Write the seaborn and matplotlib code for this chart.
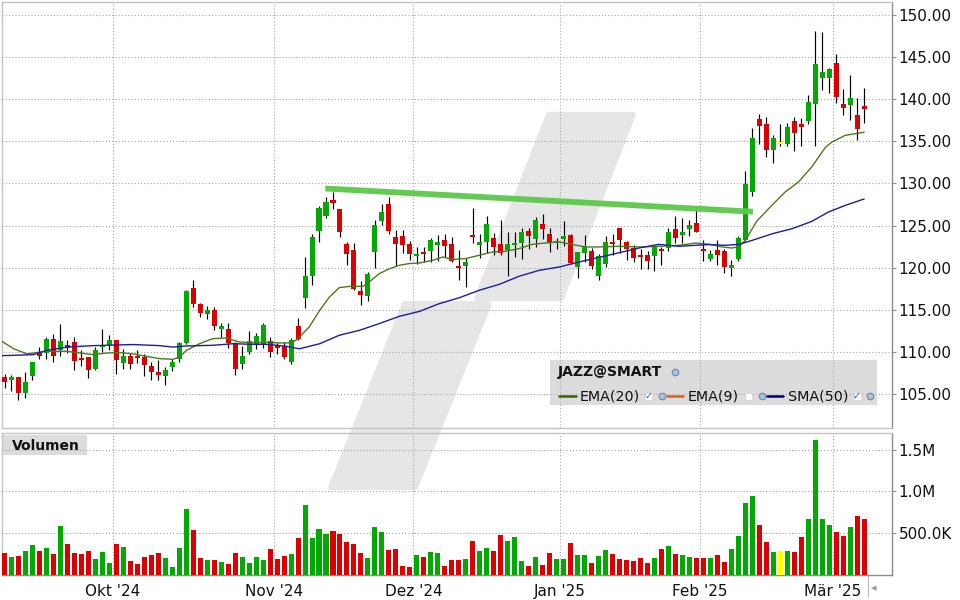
import numpy as np
import pandas as pd
import matplotlib
matplotlib.use("Agg")
import matplotlib.pyplot as plt
import seaborn as sns
from matplotlib.patches import Polygon, Rectangle
from matplotlib.lines import Line2D

# ---------------- data ----------------
opens = [107.0, 106.7, 107.0, 105.16, 107.17, 109.94, 109.94, 111.56, 110.2, 110.8,
         111.16, 109.27, 109.39, 107.96, 110.73, 110.9, 111.4, 108.7, 109.6, 109.55,
         109.4, 108.36, 107.7, 107.17, 108.2, 109.2, 111.09, 117.57, 115.67, 114.5,
         114.96, 112.8, 112.8, 111.09, 108.6, 110.0, 110.9, 110.9, 111.28, 110.77,
         110.77, 108.83, 113.06, 116.4, 118.99, 124.35, 126.15, 128.0, 126.94, 122.87,
         122.07, 117.2, 116.66, 121.88, 125.55, 127.53, 123.62, 123.73, 122.87, 121.4,
         121.84, 122.0, 122.67, 123.34, 122.87, 120.18, 120.18, 123.93, 122.7, 123.0,
         123.58, 122.78, 122.07, 122.7, 122.94, 124.33, 123.42, 125.24, 123.97, 122.94,
         123.42, 123.9, 120.1, 121.8, 122.0, 119.07, 120.45, 122.98, 124.68, 123.02,
         122.31, 121.48, 121.48, 121.4, 122.27, 122.39, 124.56, 123.9, 124.56, 125.28,
         122.27, 121.05, 122.07, 122.0, 119.98, 121.05, 123.34, 128.99, 137.61, 137.1,
         133.97, 134.8, 134.64, 137.37, 137.0, 137.4, 139.43, 142.5, 142.5, 144.25,
         139.4, 139.33, 138.1, 139.14]
highs = [107.45, 107.25, 107.05, 107.7, 108.85, 110.57, 111.8, 112.1, 113.3, 111.4,
         111.76, 110.2, 109.45, 110.6, 112.8, 112.0, 111.45, 110.4, 109.9, 110.2,
         109.75, 108.8, 109.1, 108.2, 109.2, 111.25, 117.4, 118.6, 115.8, 115.5,
         115.4, 113.5, 113.4, 111.2, 110.7, 112.47, 112.27, 113.5, 111.8, 111.1,
         111.16, 111.68, 114.1, 121.3, 124.05, 127.3, 128.35, 128.95, 127.0, 123.1,
         122.94, 118.44, 119.47, 125.63, 127.53, 128.35, 124.5, 124.5, 123.18, 122.47,
         122.47, 123.54, 123.93, 124.05, 123.65, 122.07, 121.2, 127.06, 123.97, 126.19,
         124.13, 125.71, 124.25, 124.25, 124.76, 124.76, 126.03, 126.42, 124.68, 123.58,
         125.55, 123.95, 121.92, 123.9, 122.3, 121.6, 123.74, 124.05, 124.7, 123.14,
         122.67, 122.19, 122.0, 122.47, 122.47, 124.76, 126.1, 125.87, 125.63, 127.2,
         123.26, 122.07, 123.26, 122.27, 120.97, 123.74, 131.5, 136.54, 138.2, 137.9,
         135.71, 137.1, 137.17, 137.88, 137.8, 140.45, 148.04, 147.96, 143.65, 145.4,
         141.24, 142.9, 140.14, 141.28]
lows = [105.76, 105.4, 104.37, 104.6, 106.7, 109.15, 109.2, 108.8, 109.55, 109.86,
        107.88, 108.36, 106.94, 107.88, 109.98, 110.2, 107.4, 108.0, 108.0, 108.7,
        107.17, 106.66, 106.66, 106.1, 107.76, 108.8, 111.0, 115.36, 114.2, 113.97,
        112.67, 111.76, 110.5, 107.33, 108.04, 109.8, 110.4, 110.5, 109.4, 109.8,
        109.2, 108.6, 111.48, 115.2, 117.96, 123.06, 125.9, 126.97, 123.65, 120.37,
        117.4, 115.63, 116.07, 120.02, 125.04, 124.05, 120.26, 121.76, 120.9, 120.5,
        120.65, 120.7, 120.77, 121.28, 120.65, 118.5, 117.73, 122.94, 121.2, 121.8,
        121.56, 121.48, 119.03, 121.28, 121.1, 122.27, 122.47, 123.42, 121.84, 122.2,
        122.6, 120.5, 118.8, 120.65, 119.9, 118.6, 120.1, 121.48, 121.76, 120.97,
        120.65, 119.9, 119.82, 119.62, 120.3, 122.0, 122.94, 122.94, 123.8, 124.2,
        120.77, 120.77, 120.3, 119.4, 118.99, 120.81, 123.2, 128.47, 134.64, 133.14,
        132.39, 134.4, 134.4, 133.85, 134.4, 137.0, 134.45, 141.12, 140.73, 139.55,
        138.1, 137.57, 135.2, 137.17]
closes = [106.42, 107.0, 105.16, 106.42, 108.8, 109.58, 111.56, 109.55, 111.28, 110.53,
          108.95, 109.03, 107.88, 110.2, 110.8, 111.4, 109.07, 109.6, 108.6, 109.3,
          108.48, 107.65, 107.25, 107.85, 108.8, 111.09, 117.25, 115.7, 114.64, 114.96,
          113.06, 113.06, 111.09, 107.96, 109.55, 111.28, 111.9, 113.2, 109.98, 110.53,
          109.4, 111.4, 111.56, 118.99, 123.65, 127.05, 127.76, 127.7, 124.2, 121.68,
          117.53, 116.78, 119.23, 125.04, 126.58, 124.33, 122.78, 122.66, 121.68, 121.6,
          121.64, 123.34, 123.06, 122.55, 120.77, 119.98, 120.65, 123.65, 123.06, 125.16,
          122.47, 121.76, 122.78, 122.94, 124.2, 123.77, 125.71, 124.64, 122.94, 123.1,
          123.73, 120.57, 121.84, 122.63, 120.2, 121.36, 123.1, 122.87, 123.34, 122.23,
          121.2, 121.28, 120.81, 122.43, 122.03, 124.29, 123.58, 124.2, 125.08, 124.29,
          121.96, 121.6, 121.48, 120.1, 120.3, 123.5, 129.94, 135.36, 136.78, 133.97,
          135.36, 134.8, 136.66, 135.99, 136.7, 139.6, 144.13, 143.18, 143.53, 140.26,
          139.0, 140.16, 136.46, 138.83]
volumes_k = [268, 220, 232, 288, 360, 288, 328, 256, 588, 372,
             264, 256, 288, 196, 276, 148, 372, 336, 168, 132,
             220, 240, 264, 208, 100, 328, 792, 544, 208, 184,
             184, 160, 136, 268, 220, 148, 220, 184, 316, 196,
             232, 256, 448, 844, 448, 556, 496, 532, 496, 396,
             376, 268, 208, 580, 516, 304, 316, 112, 100, 244,
             220, 276, 268, 112, 184, 184, 196, 412, 288, 328,
             288, 480, 408, 456, 168, 112, 216, 120, 264, 192,
             192, 384, 240, 240, 144, 228, 300, 252, 192, 180,
             168, 204, 144, 204, 312, 348, 252, 240, 216, 204,
             204, 204, 240, 156, 312, 468, 864, 948, 600, 396,
             276, 288, 288, 276, 456, 672, 1620, 672, 600, 516,
             468, 576, 708, 672]

ema20_x = [-0.4, 1.3, 3.2, 6.0, 8.9, 10.8, 12.7, 14.6, 16.5, 18.4, 20.3, 22.2, 24.1,
           25.1, 26.0, 27.9, 29.8, 31.7, 33.6, 35.5, 37.5, 39.4, 40.8, 41.7, 43.6,
           45.1, 46.5, 47.9, 49.4, 51.3, 52.2, 53.6, 55.1, 56.5, 57.9, 59.4, 61.3,
           62.7, 64.1, 66.0, 67.9, 69.8, 71.7, 73.6, 75.5, 77.4, 79.4, 81.3, 83.2,
           85.1, 88.0, 90.8, 93.6, 96.5, 98.9, 100.8, 102.7, 104.1, 105.1, 106.0,
           107.6, 109.8, 111.7, 113.6, 115.5, 117.5, 118.4, 120.3, 122.7, 123.0]
ema20_y = [111.3, 110.4, 109.8, 110.1, 110.1, 109.9, 109.7, 109.9, 109.95, 109.8, 109.5,
           109.23, 109.15, 109.43, 110.2, 111.0, 111.6, 111.68, 111.2, 111.13, 111.17,
           111.09, 111.09, 111.4, 112.98, 114.96, 116.54, 117.65, 117.8, 117.8, 118.32,
           119.3, 119.9, 120.3, 120.5, 120.57, 120.9, 121.28, 121.0, 121.1, 121.48,
           121.88, 121.96, 122.27, 122.78, 122.94, 123.06, 122.75, 122.47, 122.47,
           122.55, 122.47, 122.55, 122.67, 122.94, 122.8, 122.47, 122.35, 122.5, 123.26,
           125.5, 127.41, 128.99, 130.18, 131.96, 134.33, 134.92, 135.71, 136.03, 136.08]
sma50_x = [-0.4, 4.1, 6.0, 8.9, 12.7, 18.4, 22.2, 24.1, 26.0, 29.8, 32.7, 35.5, 37.5,
           40.3, 42.2, 45.1, 47.9, 50.8, 53.6, 56.5, 59.4, 62.2, 65.1, 67.9, 70.8,
           73.6, 76.5, 79.4, 82.2, 85.1, 88.0, 90.8, 93.6, 96.5, 98.9, 100.8, 103.2,
           105.1, 107.0, 109.9, 112.7, 115.5, 117.9, 120.3, 122.7, 123.0]
sma50_y = [109.58, 109.7, 110.2, 110.6, 110.77, 110.9, 110.77, 110.6, 110.73, 110.81,
           111.0, 110.93, 110.93, 110.69, 110.4, 111.0, 112.0, 112.59, 113.38, 114.25,
           114.84, 115.75, 116.46, 117.33, 118.04, 118.99, 119.7, 120.1, 120.69, 121.24,
           121.8, 122.35, 122.78, 122.55, 122.67, 122.75, 122.67, 122.78, 123.26, 124.05,
           124.64, 125.5, 126.62, 127.4, 128.08, 128.15]

trend_x = [45.9, 107.1]
trend_y = [129.4, 126.65]

month_labels = ["Okt '24", "Nov '24", "Dez '24", "Jan '25", "Feb '25", "M\u00e4r '25"]
month_first_idx = [16, 39, 59, 80, 100, 119]
price_ticks = [105, 110, 115, 120, 125, 130, 135, 140, 145, 150]
vol_ticks = [500000, 1000000, 1500000]
vol_tick_labels = ["500.0K", "1.0M", "1.5M"]
symbol = "JAZZ@SMART"

# ---------------- styling ----------------
sns.set_theme(style="white")
plt.rcParams["font.family"] = ["DejaVu Sans"]

W, H = 960, 600
def fx(x):
    return x / W
def fy(y):
    return 1 - y / H

GREEN = "#00aa00"
RED = "#dd0000"
YELLOW = "#ffff00"
GRID = "#a8a8a8"
SPINE_L = "#c4c4c4"
SPINE_D = "#8c8c8c"
GRID_LS = (0, (1.0, 1.9))

fig = plt.figure(figsize=(9.6, 6.0), dpi=100, facecolor="white")

# watermark (figure level, behind everything)
wm_col = "#e6e6e6"
upper = [(549.0, 115), (632.6, 115), (561.0, 298), (477.4, 298)]
lower = [(405.0, 304), (488.6, 304), (415.0, 487), (331.4, 487)]
for poly in (upper, lower):
    pts = [(fx(x), fy(y)) for x, y in poly]
    p = Polygon(pts, closed=True, transform=fig.transFigure, facecolor=wm_col,
                edgecolor=wm_col, linewidth=4.5, joinstyle="round", zorder=-2)
    fig.add_artist(p)

# legend box and Volumen box backgrounds (behind axes grid)
fig.add_artist(Rectangle((fx(550), fy(405)), 327 / W, 45 / H, transform=fig.transFigure,
                         facecolor="#dcdcdc", edgecolor="none", zorder=-1))
fig.add_artist(Rectangle((fx(3), fy(454.5)), 84 / W, 19.5 / H, transform=fig.transFigure,
                         facecolor="#dcdcdc", edgecolor="none", zorder=-1))

ax_p = fig.add_axes([fx(2), fy(428.3), fx(891.7) - fx(2), fy(2.3) - fy(428.3)])
ax_v = fig.add_axes([fx(2), fy(575.3), fx(891.7) - fx(2), fy(433.3) - fy(575.3)])

n = len(closes)
idx = np.arange(n)
o = np.array(opens); c = np.array(closes)
hi = np.array(highs); lo = np.array(lows)
direction = np.where(c > o, "up", np.where(c < o, "down", "flat"))
pal = {"up": GREEN, "down": RED, "flat": YELLOW}
cols = [pal[d] for d in direction]

XMIN, XMAX = -0.358, 126.94
month_pos = [m - 0.5 for m in month_first_idx]

# ---- price panel ----
ax = ax_p
ax.set_facecolor("none")
ax.vlines(idx, lo, hi, color="black", linewidth=0.85, zorder=2)
minh = 0.24
bot = np.minimum(o, c)
hgt = np.abs(c - o)
small = hgt < minh
bot = np.where(small, (o + c) / 2 - minh / 2, bot)
hgt = np.where(small, minh, hgt)
ax.bar(idx, hgt, bottom=bot, width=0.72, color=cols, linewidth=0, zorder=3)

sns.lineplot(x=ema20_x, y=ema20_y, ax=ax, color="#4b7a1c", linewidth=1.0, zorder=4)
sns.lineplot(x=sma50_x, y=sma50_y, ax=ax, color="#1c1ca8", linewidth=1.0, zorder=4)
ax.plot(trend_x, trend_y, color="#5cc84a", linewidth=4.2, solid_capstyle="butt",
        alpha=0.95, zorder=5)

ax.set_xlim(XMIN, XMAX)
ax.set_ylim(100.97, 151.48)
ax.set_xticks(month_pos)
ax.tick_params(axis="x", length=0, labelbottom=False)
ax.yaxis.tick_right()
ax.set_yticks(price_ticks)
ax.set_yticklabels([f"{v:.2f}" for v in price_ticks])
ax.tick_params(axis="y", length=3, width=0.8, color=SPINE_D, pad=2,
               labelsize=11, labelcolor="#111111")
ax.set_axisbelow(True)
ax.grid(True, color=GRID, linestyle=GRID_LS, linewidth=0.8)
ax.set_xlabel(""); ax.set_ylabel("")
for s in ("left", "top", "bottom"):
    ax.spines[s].set_color(SPINE_L); ax.spines[s].set_linewidth(1.0)
ax.spines["right"].set_color(SPINE_D); ax.spines["right"].set_linewidth(1.0)

# ---- volume panel ----
ax = ax_v
ax.set_facecolor("none")
vdf = pd.DataFrame({"idx": idx, "vol": np.array(volumes_k) * 1000.0, "dir": direction})
sns.barplot(data=vdf, x="idx", y="vol", hue="dir", palette=pal, native_scale=True,
            dodge=False, width=0.72, saturation=1, errorbar=None, legend=False,
            linewidth=0, ax=ax, zorder=3)
ax.set_xlim(XMIN, XMAX)
ax.set_ylim(0, 1.694e6)
ax.set_xticks(month_pos)
ax.set_xticklabels(month_labels)
ax.tick_params(axis="x", length=3, width=0.8, color=SPINE_D, pad=3,
               labelsize=11, labelcolor="#111111")
ax.yaxis.tick_right()
ax.set_yticks(vol_ticks)
ax.set_yticklabels(vol_tick_labels)
ax.tick_params(axis="y", length=3, width=0.8, color=SPINE_D, pad=2,
               labelsize=11, labelcolor="#111111")
ax.set_axisbelow(True)
ax.grid(True, color=GRID, linestyle=GRID_LS, linewidth=0.8)
ax.set_xlabel(""); ax.set_ylabel("")
for s in ("left", "top"):
    ax.spines[s].set_color(SPINE_L); ax.spines[s].set_linewidth(1.0)
for s in ("right", "bottom"):
    ax.spines[s].set_color(SPINE_D); ax.spines[s].set_linewidth(1.0)

# ---- overlay texts / legend ----
fig.text(fx(11.5), fy(445.5), "Volumen", fontsize=10, fontweight="bold",
         ha="left", va="center", color="#111111")

fig.text(fx(558), fy(372), symbol, fontsize=10, fontweight="bold",
         ha="left", va="center", color="#111111")

def globe(x, y):
    fig.add_artist(Line2D([fx(x)], [fy(y)], marker="o", markersize=4.8,
                          markerfacecolor="#a9c2dc", markeredgecolor="#6682aa",
                          markeredgewidth=0.7, linestyle="none",
                          transform=fig.transFigure, zorder=6))

def checkbox(x, y, checked):
    fig.add_artist(Rectangle((fx(x - 3.5), fy(y + 3.5)), 7 / W, 7 / H,
                             transform=fig.transFigure, facecolor="white",
                             edgecolor="#d0d0d0", linewidth=0.5, zorder=6))
    if checked:
        fig.text(fx(x), fy(y), "\u2713", fontsize=7, fontweight="bold",
                 color="#1a5fd0", ha="center", va="center", zorder=7)

def legline(x0, x1, y, col):
    fig.add_artist(Line2D([fx(x0), fx(x1)], [fy(y), fy(y)], color=col, linewidth=1.8,
                          transform=fig.transFigure, zorder=6))

globe(675, 372)
ly = 396
legline(559, 576, ly, "#336600")
fig.text(fx(580), fy(ly), "EMA(20)", fontsize=10.3, ha="left", va="center", color="#111111")
checkbox(648.5, ly, True); globe(662, ly)
legline(667, 683, ly, "#e0600f")
fig.text(fx(688), fy(ly), "EMA(9)", fontsize=10.3, ha="left", va="center", color="#111111")
checkbox(748, ly, False); globe(762, ly)
legline(767, 783, ly, "#000080")
fig.text(fx(788), fy(ly), "SMA(50)", fontsize=10.3, ha="left", va="center", color="#111111")
checkbox(857, ly, True); globe(870, ly)

# small scroll marker at the lower right
fig.add_artist(Line2D([fx(867.7), fx(867.7)], [fy(576), fy(597)], color="#bbbbbb",
                      linewidth=0.8, transform=fig.transFigure))
fig.text(fx(874), fy(588), "\u25c2", fontsize=8, color="#999999", ha="center", va="center")

fig.savefig("out.png", dpi=100, facecolor="white")
